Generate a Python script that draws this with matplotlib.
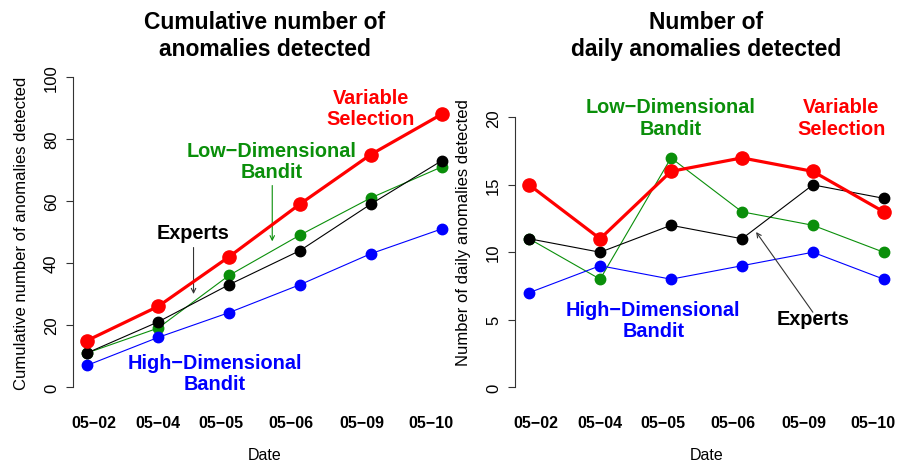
import matplotlib
matplotlib.use("Agg")
import matplotlib.pyplot as plt
import numpy as np

plt.rcParams['font.family'] = ['Liberation Sans', 'DejaVu Sans']

# data
dates = ['05\u221202', '05\u221204', '05\u221205', '05\u221206', '05\u221209', '05\u221210']
cum_var_sel = [15, 26, 42, 59, 75, 88]
cum_experts = [11, 21, 33, 44, 59, 73]
cum_low_dim = [11, 19, 36, 49, 61, 71]
cum_high_dim = [7, 16, 24, 33, 43, 51]

daily_var_sel = [15, 11, 16, 17, 16, 13]
daily_experts = [11, 10, 12, 11, 15, 14]
daily_low_dim = [11, 8, 17, 13, 12, 10]
daily_high_dim = [7, 9, 8, 9, 10, 8]

RED = '#FF0000'
GREEN = '#0A8F0A'
BLUE = '#0000FF'
BLACK = '#000000'

x = np.arange(1, len(dates) + 1)
label_pos = [1.1, 2.0, 2.88, 3.88, 4.88, 5.85]


def draw_panel(ax, red, black, green, blue, ymax, ytop, yticks, title, ylabel):
    # thin lines first, thick red on top
    ax.plot(x, green, color=GREEN, lw=0.8, marker='o', ms=7.5, zorder=3)
    ax.plot(x, black, color=BLACK, lw=0.8, marker='o', ms=7.5, zorder=4)
    ax.plot(x, blue, color=BLUE, lw=0.8, marker='o', ms=7.5, zorder=3)
    ax.plot(x, red, color=RED, lw=2.3, marker='o', ms=9.5, zorder=5)
    pad = 0.04 * ytop
    ax.set_xlim(0.8, 6.2)
    ax.set_ylim(-pad, ytop + pad)
    for s in ['top', 'right', 'bottom']:
        ax.spines[s].set_visible(False)
    ax.spines['left'].set_bounds(0, ymax)
    ax.spines['left'].set_color('#333333')
    ax.set_xticks(label_pos, dates, fontweight='bold', fontsize=11.5)
    ax.set_yticks(yticks)
    ax.tick_params(axis='x', length=0, pad=11)
    ax.tick_params(axis='y', length=5, width=0.8, color='#333333', labelsize=12, pad=5)
    for t in ax.get_yticklabels():
        t.set_rotation(90)
        t.set_va('center')
    ax.set_xlabel('Date', fontsize=11.5, labelpad=12.5)
    ax.set_ylabel(ylabel, fontsize=12, labelpad=11)
    ax.set_title(title, fontsize=16.5, fontweight='bold', pad=7, linespacing=1.2)


fig = plt.figure(figsize=(9.01, 4.64), dpi=100)
ax1 = fig.add_axes([0.081, 0.137, 0.425, 0.7216])
ax2 = fig.add_axes([0.5716, 0.137, 0.425, 0.7216])

draw_panel(ax1, cum_var_sel, cum_experts, cum_low_dim, cum_high_dim, 100, 100,
           [0, 20, 40, 60, 80, 100],
           'Cumulative number of\nanomalies detected',
           'Cumulative number of anomalies detected')

draw_panel(ax2, daily_var_sel, daily_experts, daily_low_dim, daily_high_dim, 20, 23,
           [0, 5, 10, 15, 20],
           'Number of\ndaily anomalies detected',
           'Number of daily anomalies detected')

lab = dict(fontsize=14.3, fontweight='bold', ha='center', va='center', linespacing=1.15)
arr = dict(arrowstyle='->', lw=0.8, mutation_scale=8, shrinkA=0, shrinkB=0)

# left panel labels
ax1.text(5.0, 90, 'Variable\nSelection', color=RED, **lab)
ax1.text(3.6, 73, 'Low\u2212Dimensional\nBandit', color=GREEN, **lab)
ax1.text(2.5, 50, 'Experts', color=BLACK, **lab)
ax1.text(2.8, 4.5, 'High\u2212Dimensional\nBandit', color=BLUE, **lab)
ax1.annotate('', xy=(3.61, 47), xytext=(3.61, 65), arrowprops=dict(color=GREEN, **arr))
ax1.annotate('', xy=(2.5, 30), xytext=(2.5, 45), arrowprops=dict(color='#333333', **arr))

# right panel labels
ax2.text(3.0, 20, 'Low\u2212Dimensional\nBandit', color=GREEN, **lab)
ax2.text(5.4, 20, 'Variable\nSelection', color=RED, **lab)
ax2.text(2.75, 5.0, 'High\u2212Dimensional\nBandit', color=BLUE, **lab)
ax2.text(5.0, 5.1, 'Experts', color=BLACK, **lab)
ax2.annotate('', xy=(4.2, 11.5), xytext=(5.0, 5.55), arrowprops=dict(color='#333333', **arr))

fig.savefig('out.png', dpi=100)
